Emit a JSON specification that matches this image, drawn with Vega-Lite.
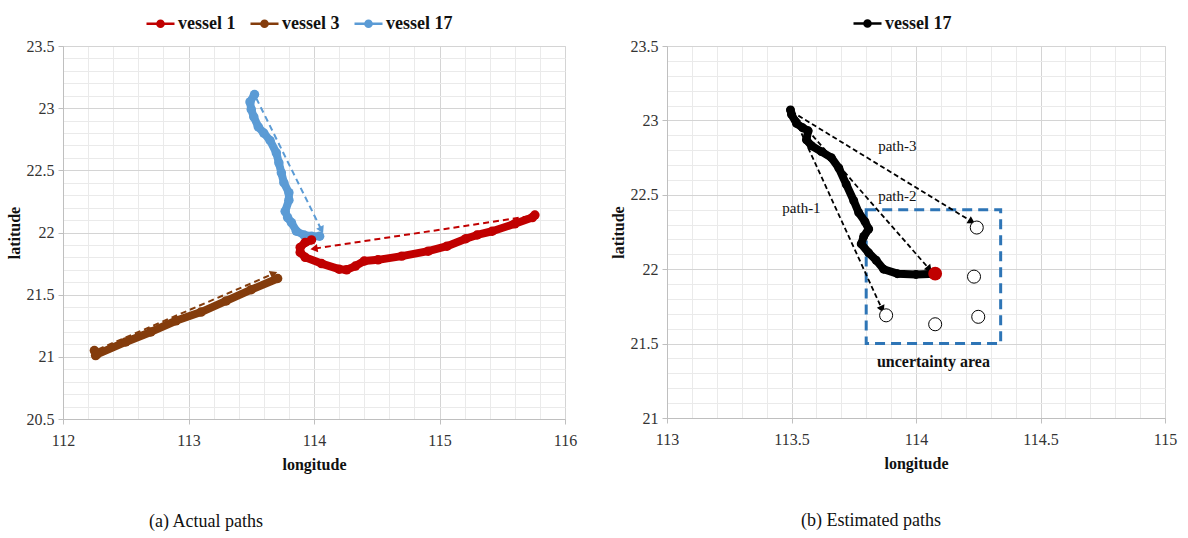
{
  "$schema": "https://vega.github.io/schema/vega-lite/v6.json",
  "background": "white",
  "padding": {"left": 5, "top": 7, "right": 5, "bottom": 5},
  "config": {
    "font": "Liberation Serif",
    "style": {"guide-label": {"font": "Liberation Serif", "fontSize": 16}, "guide-title": {"font": "Liberation Serif"}},
    "view": {"stroke": "#D9D9D9", "strokeWidth": 1},
    "axis": {
      "labelFont": "Liberation Serif", "labelFontSize": 16, "labelColor": "#333333", "labelPadding": 8,
      "titleFont": "Liberation Serif", "titleFontSize": 16, "titleFontWeight": "bold", "titleColor": "#111111",
      "domainColor": "#BFBFBF", "tickColor": "#BFBFBF", "labelOverlap": false, "labelFlush": false,
      "grid": true, "gridWidth": 1, "tickCount": 1000
    },
    "legend": {
      "labelFont": "Liberation Serif", "labelFontSize": 18, "labelFontWeight": "bold", "labelColor": "#111111",
      "symbolType": "M-1,0L1,0M-0.22,0A0.22,0.22 0 1,1 0.22,0A0.22,0.22 0 1,1 -0.22,0Z",
      "symbolSize": 784, "symbolStrokeWidth": 2.5, "direction": "horizontal", "columnPadding": 9, "labelOffset": 2, "title": null
    }
  },
  "datasets": {
    "pathsA": [
      {"vessel": "vessel 17", "i": 0, "lon": 113.526, "lat": 23.11},
      {"vessel": "vessel 17", "i": 1, "lon": 113.49, "lat": 23.05},
      {"vessel": "vessel 17", "i": 2, "lon": 113.5, "lat": 22.99},
      {"vessel": "vessel 17", "i": 3, "lon": 113.52, "lat": 22.93},
      {"vessel": "vessel 17", "i": 4, "lon": 113.556, "lat": 22.85},
      {"vessel": "vessel 17", "i": 5, "lon": 113.6, "lat": 22.8},
      {"vessel": "vessel 17", "i": 6, "lon": 113.65, "lat": 22.74},
      {"vessel": "vessel 17", "i": 7, "lon": 113.7, "lat": 22.64},
      {"vessel": "vessel 17", "i": 8, "lon": 113.72, "lat": 22.56},
      {"vessel": "vessel 17", "i": 9, "lon": 113.74, "lat": 22.48},
      {"vessel": "vessel 17", "i": 10, "lon": 113.76, "lat": 22.4},
      {"vessel": "vessel 17", "i": 11, "lon": 113.8, "lat": 22.32},
      {"vessel": "vessel 17", "i": 12, "lon": 113.8, "lat": 22.26},
      {"vessel": "vessel 17", "i": 13, "lon": 113.77, "lat": 22.17},
      {"vessel": "vessel 17", "i": 14, "lon": 113.79, "lat": 22.12},
      {"vessel": "vessel 17", "i": 15, "lon": 113.82, "lat": 22.08},
      {"vessel": "vessel 17", "i": 16, "lon": 113.86, "lat": 22.01},
      {"vessel": "vessel 17", "i": 17, "lon": 113.92, "lat": 21.98},
      {"vessel": "vessel 17", "i": 18, "lon": 113.98, "lat": 21.97},
      {"vessel": "vessel 17", "i": 19, "lon": 114.045, "lat": 21.97},
      {"vessel": "vessel 1", "i": 0, "lon": 115.76, "lat": 22.14},
      {"vessel": "vessel 1", "i": 1, "lon": 115.74, "lat": 22.12},
      {"vessel": "vessel 1", "i": 2, "lon": 115.6, "lat": 22.07},
      {"vessel": "vessel 1", "i": 3, "lon": 115.42, "lat": 22.01},
      {"vessel": "vessel 1", "i": 4, "lon": 115.3, "lat": 21.98},
      {"vessel": "vessel 1", "i": 5, "lon": 115.21, "lat": 21.95},
      {"vessel": "vessel 1", "i": 6, "lon": 115.06, "lat": 21.89},
      {"vessel": "vessel 1", "i": 7, "lon": 114.91, "lat": 21.85},
      {"vessel": "vessel 1", "i": 8, "lon": 114.7, "lat": 21.81},
      {"vessel": "vessel 1", "i": 9, "lon": 114.51, "lat": 21.78},
      {"vessel": "vessel 1", "i": 10, "lon": 114.4, "lat": 21.77},
      {"vessel": "vessel 1", "i": 11, "lon": 114.33, "lat": 21.73},
      {"vessel": "vessel 1", "i": 12, "lon": 114.26, "lat": 21.7},
      {"vessel": "vessel 1", "i": 13, "lon": 114.2, "lat": 21.705},
      {"vessel": "vessel 1", "i": 14, "lon": 114.06, "lat": 21.75},
      {"vessel": "vessel 1", "i": 15, "lon": 113.93, "lat": 21.8},
      {"vessel": "vessel 1", "i": 16, "lon": 113.89, "lat": 21.84},
      {"vessel": "vessel 1", "i": 17, "lon": 113.89, "lat": 21.88},
      {"vessel": "vessel 1", "i": 18, "lon": 113.93, "lat": 21.92},
      {"vessel": "vessel 1", "i": 19, "lon": 113.98, "lat": 21.94},
      {"vessel": "vessel 3", "i": 0, "lon": 112.26, "lat": 21.01},
      {"vessel": "vessel 3", "i": 1, "lon": 112.25, "lat": 21.05},
      {"vessel": "vessel 3", "i": 2, "lon": 112.27, "lat": 21.02},
      {"vessel": "vessel 3", "i": 3, "lon": 112.5, "lat": 21.12},
      {"vessel": "vessel 3", "i": 4, "lon": 112.7, "lat": 21.2},
      {"vessel": "vessel 3", "i": 5, "lon": 112.9, "lat": 21.29},
      {"vessel": "vessel 3", "i": 6, "lon": 113.1, "lat": 21.36},
      {"vessel": "vessel 3", "i": 7, "lon": 113.3, "lat": 21.45},
      {"vessel": "vessel 3", "i": 8, "lon": 113.5, "lat": 21.54},
      {"vessel": "vessel 3", "i": 9, "lon": 113.71, "lat": 21.63}
    ],
    "arrowsA": [
      {"vessel": "vessel 17", "lon0": 113.54, "lat0": 23.08, "lon1": 114.06, "lat1": 22.02},
      {"vessel": "vessel 1", "lon0": 115.71, "lat0": 22.13, "lon1": 114.0, "lat1": 21.87},
      {"vessel": "vessel 3", "lon0": 112.28, "lat0": 21.06, "lon1": 113.68, "lat1": 21.67}
    ],
    "pathB": [
      {"vessel": "vessel 17", "i": 0, "lon": 113.496, "lat": 23.07},
      {"vessel": "vessel 17", "i": 1, "lon": 113.5, "lat": 23.04},
      {"vessel": "vessel 17", "i": 2, "lon": 113.52, "lat": 22.98},
      {"vessel": "vessel 17", "i": 3, "lon": 113.545, "lat": 22.95},
      {"vessel": "vessel 17", "i": 4, "lon": 113.567, "lat": 22.93},
      {"vessel": "vessel 17", "i": 5, "lon": 113.56, "lat": 22.87},
      {"vessel": "vessel 17", "i": 6, "lon": 113.58, "lat": 22.83},
      {"vessel": "vessel 17", "i": 7, "lon": 113.62, "lat": 22.79},
      {"vessel": "vessel 17", "i": 8, "lon": 113.66, "lat": 22.75},
      {"vessel": "vessel 17", "i": 9, "lon": 113.69, "lat": 22.68},
      {"vessel": "vessel 17", "i": 10, "lon": 113.72, "lat": 22.57},
      {"vessel": "vessel 17", "i": 11, "lon": 113.75, "lat": 22.46},
      {"vessel": "vessel 17", "i": 12, "lon": 113.77, "lat": 22.38},
      {"vessel": "vessel 17", "i": 13, "lon": 113.795, "lat": 22.32},
      {"vessel": "vessel 17", "i": 14, "lon": 113.81, "lat": 22.27},
      {"vessel": "vessel 17", "i": 15, "lon": 113.79, "lat": 22.22},
      {"vessel": "vessel 17", "i": 16, "lon": 113.78, "lat": 22.17},
      {"vessel": "vessel 17", "i": 17, "lon": 113.81, "lat": 22.11},
      {"vessel": "vessel 17", "i": 18, "lon": 113.84, "lat": 22.06},
      {"vessel": "vessel 17", "i": 19, "lon": 113.87, "lat": 22.0},
      {"vessel": "vessel 17", "i": 20, "lon": 113.925, "lat": 21.97},
      {"vessel": "vessel 17", "i": 21, "lon": 114.0, "lat": 21.965},
      {"vessel": "vessel 17", "i": 22, "lon": 114.077, "lat": 21.97}
    ],
    "arrowsB": [
      {"path": "path-1", "lon0": 113.5, "lat0": 23.06, "lon1": 113.864, "lat1": 21.73},
      {"path": "path-2", "lon0": 113.5, "lat0": 23.06, "lon1": 114.054, "lat1": 22.0},
      {"path": "path-3", "lon0": 113.5, "lat0": 23.06, "lon1": 114.224, "lat1": 22.32}
    ],
    "labelsB": [
      {"text": "path-1", "lon": 113.54, "lat": 22.41},
      {"text": "path-2", "lon": 113.925, "lat": 22.49},
      {"text": "path-3", "lon": 113.925, "lat": 22.83}
    ],
    "candidatesB": [
      {"lon": 114.244, "lat": 22.28},
      {"lon": 114.233, "lat": 21.95},
      {"lon": 114.25, "lat": 21.68},
      {"lon": 113.88, "lat": 21.69},
      {"lon": 114.077, "lat": 21.63}
    ],
    "currentB": [{"lon": 114.077, "lat": 21.97}],
    "areaB": [{"lon0": 113.8, "lon1": 114.34, "lat0": 21.5, "lat1": 22.4, "text": "uncertainty area", "tlon": 114.07, "tlat": 21.375}]
  },
  "resolve": {"scale": {"color": "independent"}},
  "spacing": 31,
  "hconcat": [
    {
      "width": 502,
      "height": 373,
      "title": {"text": "(a) Actual paths", "orient": "bottom", "anchor": "middle", "dx": -108, "offset": 41, "font": "Liberation Serif", "fontSize": 18, "fontWeight": "normal", "color": "#111111"},
      "layer": [
        {
          "data": {"name": "pathsA"},
          "mark": {"type": "line", "strokeWidth": 8, "strokeJoin": "round", "strokeCap": "round", "point": {"size": 90, "filled": true}},
          "encoding": {
            "x": {"field": "lon", "type": "quantitative", "scale": {"domain": [112, 116], "nice": false, "zero": false},
              "axis": {"title": "longitude", "titlePadding": 8, "tickCount": 1000, "labelFont": "Liberation Serif", "labelFontSize": 16,
                "encode": {"labels": {"update": {"font": {"value": "Liberation Serif"}}}},
                "values": [112, 112.2, 112.4, 112.6, 112.8, 113, 113.2, 113.4, 113.6, 113.8, 114, 114.2, 114.4, 114.6, 114.8, 115, 115.2, 115.4, 115.6, 115.8, 116],
                "labelExpr": "abs(datum.value - round(datum.value)) < 1e-6 ? '' + datum.value : ''",
                "gridColor": {"condition": {"test": "abs(datum.value - round(datum.value)) < 1e-6", "value": "#D4D4D4"}, "value": "#EAEAEA"},
                "tickSize": {"condition": {"test": "abs(datum.value - round(datum.value)) < 1e-6", "value": 5}, "value": 0}}},
            "y": {"field": "lat", "type": "quantitative", "scale": {"domain": [20.5, 23.5], "nice": false, "zero": false},
              "axis": {"title": "latitude", "titlePadding": 4, "labelPadding": 4, "tickCount": 1000, "labelFont": "Liberation Serif", "labelFontSize": 16,
                "encode": {"labels": {"update": {"font": {"value": "Liberation Serif"}}}},
                "values": [20.5, 20.6, 20.7, 20.8, 20.9, 21, 21.1, 21.2, 21.3, 21.4, 21.5, 21.6, 21.7, 21.8, 21.9, 22, 22.1, 22.2, 22.3, 22.4, 22.5, 22.6, 22.7, 22.8, 22.9, 23, 23.1, 23.2, 23.3, 23.4, 23.5],
                "labelExpr": "abs(datum.value * 2 - round(datum.value * 2)) < 1e-6 ? '' + datum.value : ''",
                "gridColor": {"condition": {"test": "abs(datum.value * 2 - round(datum.value * 2)) < 1e-6", "value": "#D4D4D4"}, "value": "#EAEAEA"},
                "tickSize": {"condition": {"test": "abs(datum.value * 2 - round(datum.value * 2)) < 1e-6", "value": 5}, "value": 0}}},
            "order": {"field": "i", "type": "quantitative"},
            "color": {"field": "vessel", "type": "nominal",
              "scale": {"domain": ["vessel 1", "vessel 3", "vessel 17"], "range": ["#C00000", "#843C0C", "#5B9BD5"]},
              "legend": {"orient": "none", "legendX": 82, "legendY": -38,
                "encode": {"symbols": {"update": {
                  "fill": {"signal": "datum.value === 'vessel 1' ? '#C00000' : datum.value === 'vessel 3' ? '#843C0C' : '#5B9BD5'"},
                  "stroke": {"signal": "datum.value === 'vessel 1' ? '#C00000' : datum.value === 'vessel 3' ? '#843C0C' : '#5B9BD5'"},
                  "opacity": {"value": 1}}}}}}
          }
        },
        {
          "data": {"name": "arrowsA"},
          "mark": {"type": "rule", "strokeDash": [6, 4], "strokeWidth": 2},
          "encoding": {
            "x": {"field": "lon0", "type": "quantitative"},
            "y": {"field": "lat0", "type": "quantitative"},
            "x2": {"field": "lon1"},
            "y2": {"field": "lat1"},
            "color": {"field": "vessel", "type": "nominal"}
          }
        },
        {
          "data": {"name": "arrowsA"},
          "transform": [{"filter": "datum.vessel === 'vessel 17'"}],
          "mark": {"type": "point", "shape": "triangle-up", "filled": true, "size": 70, "angle": 153.6, "opacity": 1},
          "encoding": {"x": {"field": "lon1", "type": "quantitative"}, "y": {"field": "lat1", "type": "quantitative"}, "color": {"field": "vessel", "type": "nominal"}}
        },
        {
          "data": {"name": "arrowsA"},
          "transform": [{"filter": "datum.vessel === 'vessel 1'"}],
          "mark": {"type": "point", "shape": "triangle-up", "filled": true, "size": 70, "angle": 261.4, "opacity": 1},
          "encoding": {"x": {"field": "lon1", "type": "quantitative"}, "y": {"field": "lat1", "type": "quantitative"}, "color": {"field": "vessel", "type": "nominal"}}
        },
        {
          "data": {"name": "arrowsA"},
          "transform": [{"filter": "datum.vessel === 'vessel 3'"}],
          "mark": {"type": "point", "shape": "triangle-up", "filled": true, "size": 70, "angle": 66.7, "opacity": 1},
          "encoding": {"x": {"field": "lon1", "type": "quantitative"}, "y": {"field": "lat1", "type": "quantitative"}, "color": {"field": "vessel", "type": "nominal"}}
        }
      ]
    },
    {
      "width": 498,
      "height": 372,
      "title": {"text": "(b) Estimated paths", "orient": "bottom", "anchor": "middle", "dx": -45, "offset": 41, "font": "Liberation Serif", "fontSize": 18, "fontWeight": "normal", "color": "#111111"},
      "layer": [
        {
          "data": {"name": "areaB"},
          "mark": {"type": "rect", "fill": null, "fillOpacity": 0, "stroke": "#2E75B6", "strokeWidth": 3, "strokeDash": [10, 6]},
          "encoding": {
            "x": {"field": "lon0", "type": "quantitative", "scale": {"domain": [113, 115], "nice": false, "zero": false},
              "axis": {"title": "longitude", "titlePadding": 8, "tickCount": 1000, "labelFont": "Liberation Serif", "labelFontSize": 16,
                "encode": {"labels": {"update": {"font": {"value": "Liberation Serif"}}}},
                "values": [113, 113.1, 113.2, 113.3, 113.4, 113.5, 113.6, 113.7, 113.8, 113.9, 114, 114.1, 114.2, 114.3, 114.4, 114.5, 114.6, 114.7, 114.8, 114.9, 115],
                "labelExpr": "abs(datum.value * 2 - round(datum.value * 2)) < 1e-6 ? '' + datum.value : ''",
                "gridColor": {"condition": {"test": "abs(datum.value * 2 - round(datum.value * 2)) < 1e-6", "value": "#D4D4D4"}, "value": "#EAEAEA"},
                "tickSize": {"condition": {"test": "abs(datum.value * 2 - round(datum.value * 2)) < 1e-6", "value": 5}, "value": 0}}},
            "x2": {"field": "lon1"},
            "y": {"field": "lat0", "type": "quantitative", "scale": {"domain": [21, 23.5], "nice": false, "zero": false},
              "axis": {"title": "latitude", "titlePadding": 4, "labelPadding": 4, "tickCount": 1000, "labelFont": "Liberation Serif", "labelFontSize": 16,
                "encode": {"labels": {"update": {"font": {"value": "Liberation Serif"}}}},
                "values": [21, 21.1, 21.2, 21.3, 21.4, 21.5, 21.6, 21.7, 21.8, 21.9, 22, 22.1, 22.2, 22.3, 22.4, 22.5, 22.6, 22.7, 22.8, 22.9, 23, 23.1, 23.2, 23.3, 23.4, 23.5],
                "labelExpr": "abs(datum.value * 2 - round(datum.value * 2)) < 1e-6 ? '' + datum.value : ''",
                "gridColor": {"condition": {"test": "abs(datum.value * 2 - round(datum.value * 2)) < 1e-6", "value": "#D4D4D4"}, "value": "#EAEAEA"},
                "tickSize": {"condition": {"test": "abs(datum.value * 2 - round(datum.value * 2)) < 1e-6", "value": 5}, "value": 0}}},
            "y2": {"field": "lat1"}
          }
        },
        {
          "data": {"name": "pathB"},
          "mark": {"type": "line", "strokeWidth": 8, "strokeJoin": "round", "strokeCap": "round", "point": {"size": 80, "filled": true}},
          "encoding": {
            "x": {"field": "lon", "type": "quantitative"},
            "y": {"field": "lat", "type": "quantitative"},
            "order": {"field": "i", "type": "quantitative"},
            "color": {"field": "vessel", "type": "nominal", "scale": {"domain": ["vessel 17"], "range": ["#000000"]},
              "legend": {"orient": "none", "legendX": 185, "legendY": -38,
                "encode": {"symbols": {"update": {"fill": {"value": "#000000"}, "stroke": {"value": "#000000"}, "opacity": {"value": 1}}}}}}
          }
        },
        {
          "data": {"name": "arrowsB"},
          "mark": {"type": "rule", "strokeDash": [5, 3], "strokeWidth": 1.8, "color": "#000000"},
          "encoding": {
            "x": {"field": "lon0", "type": "quantitative"},
            "y": {"field": "lat0", "type": "quantitative"},
            "x2": {"field": "lon1"},
            "y2": {"field": "lat1"}
          }
        },
        {
          "data": {"name": "arrowsB"},
          "transform": [{"filter": "datum.path === 'path-1'"}],
          "mark": {"type": "point", "shape": "triangle-up", "filled": true, "size": 70, "angle": 155.4, "color": "#000000", "opacity": 1},
          "encoding": {"x": {"field": "lon1", "type": "quantitative"}, "y": {"field": "lat1", "type": "quantitative"}}
        },
        {
          "data": {"name": "arrowsB"},
          "transform": [{"filter": "datum.path === 'path-2'"}],
          "mark": {"type": "point", "shape": "triangle-up", "filled": true, "size": 70, "angle": 138.8, "color": "#000000", "opacity": 1},
          "encoding": {"x": {"field": "lon1", "type": "quantitative"}, "y": {"field": "lat1", "type": "quantitative"}}
        },
        {
          "data": {"name": "arrowsB"},
          "transform": [{"filter": "datum.path === 'path-3'"}],
          "mark": {"type": "point", "shape": "triangle-up", "filled": true, "size": 70, "angle": 121.4, "color": "#000000", "opacity": 1},
          "encoding": {"x": {"field": "lon1", "type": "quantitative"}, "y": {"field": "lat1", "type": "quantitative"}}
        },
        {
          "data": {"name": "candidatesB"},
          "mark": {"type": "point", "shape": "circle", "filled": true, "fill": "#FFFFFF", "stroke": "#000000", "strokeWidth": 1, "size": 170, "opacity": 1},
          "encoding": {"x": {"field": "lon", "type": "quantitative"}, "y": {"field": "lat", "type": "quantitative"}}
        },
        {
          "data": {"name": "currentB"},
          "mark": {"type": "point", "shape": "circle", "filled": true, "color": "#C00000", "size": 190, "opacity": 1},
          "encoding": {"x": {"field": "lon", "type": "quantitative"}, "y": {"field": "lat", "type": "quantitative"}}
        },
        {
          "data": {"name": "labelsB"},
          "mark": {"type": "text", "font": "Liberation Serif", "fontSize": 15, "color": "#111111"},
          "encoding": {"x": {"field": "lon", "type": "quantitative"}, "y": {"field": "lat", "type": "quantitative"}, "text": {"field": "text"}}
        },
        {
          "data": {"name": "areaB"},
          "mark": {"type": "text", "font": "Liberation Serif", "fontSize": 16, "fontWeight": "bold", "color": "#111111"},
          "encoding": {"x": {"field": "tlon", "type": "quantitative"}, "y": {"field": "tlat", "type": "quantitative"}, "text": {"field": "text"}}
        }
      ]
    }
  ]
}
